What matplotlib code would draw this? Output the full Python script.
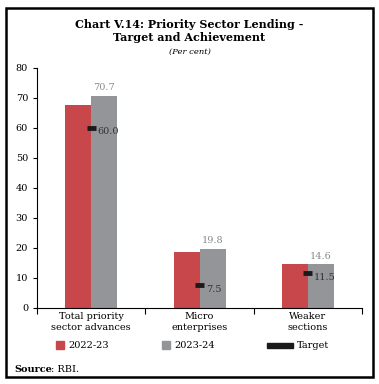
import matplotlib.pyplot as plt
from matplotlib.patches import Rectangle
import numpy as np

# Dados do gráfico
categorias = ['Total priority\nsector advances', 'Micro\nenterprises', 'Weaker\nsections']
valores_2022 = [67.8, 18.8, 14.7]
valores_2023 = [70.7, 19.8, 14.6]
metas = [60.0, 7.5, 11.5]
series = ['2022-23', '2023-24', 'Target']

vermelho = '#C8474A'
cinza = '#939598'
preto = '#1a1a1a'

plt.rcParams['font.family'] = ['DejaVu Serif']

fig = plt.figure(figsize=(3.79, 3.84), dpi=100)
ax = fig.add_axes([0.098, 0.198, 0.857, 0.625])

x = np.arange(len(categorias))
largura = 0.24
ax.bar(x - largura / 2, valores_2022, largura, color=vermelho)
ax.bar(x + largura / 2, valores_2023, largura, color=cinza)

# Marcadores da meta
for xi, m in zip(x, metas):
    ax.plot([xi - 0.04, xi + 0.04], [m, m], color=preto, lw=3.5, solid_capstyle='butt')
    ax.text(xi + 0.06, m - 1.3, f'{m:.1f}', fontsize=7, color='#333333', va='center', ha='left')

for xi, v in zip(x, valores_2023):
    ax.text(xi + largura / 2, v + 1.2, f'{v:.1f}', fontsize=7, color='#8a8a8a', ha='center', va='bottom')

ax.set_xlim(-0.5, 2.5)
ax.set_ylim(0, 80)
ax.set_yticks(range(0, 81, 10))
ax.set_xticks([-0.5, 0.5, 1.5, 2.5])
ax.set_xticklabels([])
ax.set_xticks(x, minor=True)
ax.set_xticklabels(categorias, minor=True, fontsize=7)
ax.tick_params(axis='x', which='minor', length=0, pad=3)
ax.tick_params(axis='x', which='major', length=4, direction='out')
ax.tick_params(axis='y', labelsize=7, length=3)
for lado in ['top', 'right']:
    ax.spines[lado].set_visible(False)

# Título
fig.text(0.5, 0.92, 'Chart V.14: Priority Sector Lending -\nTarget and Achievement',
         ha='center', va='center', fontsize=8, fontweight='bold', linespacing=1.25)
fig.text(0.5, 0.865, '(Per cent)', ha='center', va='center', fontsize=6, style='italic')

# Legenda feita à mão
y_leg = 1 - 345 / 384
cores = [vermelho, cinza, preto]
posicoes = [(56, 8), (162, 8), (267, 26)]
for cor, (px, w), nome in zip(cores, posicoes, series):
    h = 8 if w == 8 else 5
    fig.patches.append(Rectangle((px / 379, y_leg - h / 2 / 384), w / 379, h / 384,
                                 transform=fig.transFigure, color=cor))
    fig.text((px + w + 4) / 379, y_leg, nome, fontsize=7, va='center')

fig.text(0.037, 0.037, 'Source', fontsize=7, fontweight='bold', va='center')
fig.text(0.135, 0.037, ': RBI.', fontsize=7, va='center')

# Moldura
fig.patches.append(Rectangle((0.016, 0.018), 0.968, 0.961, transform=fig.transFigure,
                             fill=False, edgecolor='black', lw=1.8))

plt.savefig('out.png', dpi=100)
